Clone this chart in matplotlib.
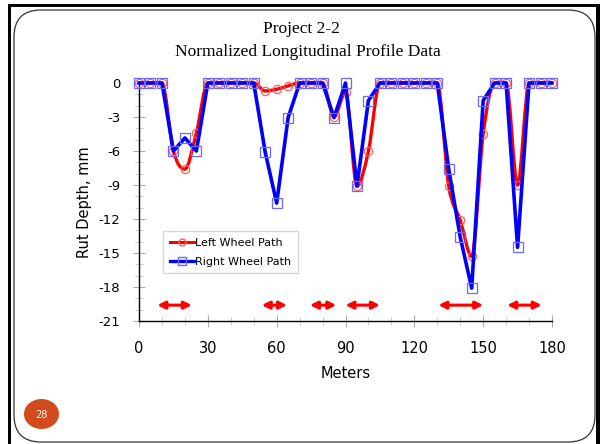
import numpy as np
import matplotlib
matplotlib.use("Agg")
import matplotlib.pyplot as plt
from matplotlib.path import Path
from matplotlib.patches import PathPatch, FancyBboxPatch, Ellipse, Rectangle
from matplotlib.lines import Line2D

plt.rcParams["axes.unicode_minus"] = False

# ---- data ----
meters = [0, 5, 10, 15, 20, 25, 30, 35, 40, 45, 50, 55, 60, 65, 70, 75, 80, 85, 90,
          95, 100, 105, 110, 115, 120, 125, 130, 135, 140, 145, 150, 155, 160, 165,
          170, 175, 180]
left_wheel = [0, 0, 0, -6.0, -7.6, -4.4, 0, 0, 0, 0, 0, -0.7, -0.55, -0.25, 0, 0, 0, -3.0, -0.8,
              -9.1, -6.0, 0, 0, 0, 0, 0, 0, -9.1, -12.1, -15.3, -4.5, 0, 0, -9.0,
              0, 0, 0]
right_wheel = [0, 0, 0, -6.0, -4.85, -6.0, 0, 0, 0, 0, 0, -6.1, -10.6, -3.05, 0, 0, 0, -3.05, 0,
               -9.1, -1.55, 0, 0, 0, 0, 0, 0, -7.6, -13.6, -18.1, -1.55, 0, 0, -14.5,
               0, 0, 0]
arrow_spans = [(8, 23), (53.5, 64.5), (74.5, 86), (90, 105), (130.5, 150), (160.5, 175.5)]
arrow_level = -19.6
x_ticks = [0, 30, 60, 90, 120, 150, 180]
y_ticks = [0, -3, -6, -9, -12, -15, -18, -21]

W, H = 600, 444
fig = plt.figure(figsize=(W / 100, H / 100), dpi=100)
fig.patch.set_facecolor("white")

# ---- slide frame ----
def px(x, y):
    return x / W, 1 - y / H

for r in [Rectangle((8 / W, 0), 3 / W, 1 - 5 / H),
          Rectangle((596 / W, 0), 4 / W, 1 - 4 / H),
          Rectangle((8 / W, 1 - 7 / H), 592 / W, 3 / H)]:
    r.set_transform(fig.transFigure)
    r.set_facecolor("black")
    r.set_edgecolor("none")
    r.set_zorder(-2)
    fig.patches.append(r)
frame = FancyBboxPatch((14 / W, 2 / H), (595 - 14) / W, (434 - 2) / H,
                       boxstyle="round,pad=0,rounding_size=0.045",
                       transform=fig.transFigure, facecolor="white",
                       edgecolor="#333333", linewidth=0.9,
                       mutation_aspect=W / H, zorder=-1)
fig.patches.append(frame)
fig.patches.append(Ellipse(px(41.5, 414), 35 / W, 30 / H, transform=fig.transFigure,
                           facecolor="#D24B1C", edgecolor="none", zorder=0))
fig.text(*px(41.5, 414.5), "28", color="white", fontsize=7, ha="center", va="center",
         family="DejaVu Sans")

# ---- titles ----
fig.text(*px(301, 29), "Project 2-2", fontsize=12.5, ha="center", va="center",
         family="Liberation Serif")
fig.text(*px(308, 52), "Normalized Longitudinal Profile Data", fontsize=12.5,
         ha="center", va="center", family="Liberation Serif")

# ---- axes ----
ax = fig.add_axes([139 / W, 1 - 321 / H, (552 - 139) / W, (321 - 83) / H])
ax.set_zorder(5)
ax.set_facecolor("none")
ax.set_xlim(0, 180)
ax.set_ylim(-21, 0)
for s in ["top", "right"]:
    ax.spines[s].set_visible(False)
for s in ["left", "bottom"]:
    ax.spines[s].set_color("black")
    ax.spines[s].set_linewidth(1.0)

ax.set_xticks(x_ticks)
ax.set_yticks(y_ticks)
ax.set_xticks(np.arange(0, 181, 10), minor=True)
ax.set_yticks(np.arange(-21, 1, 1), minor=True)
ax.tick_params(axis="both", which="major", direction="inout", length=9, width=0.8,
               color="#aaaaaa")
ax.tick_params(axis="both", which="minor", direction="inout", length=6, width=0.8,
               color="#cccccc")
ax.tick_params(axis="x", pad=10, labelsize=10.5)
ax.tick_params(axis="y", pad=9, labelsize=9.5)
ax.set_xlabel("Meters", fontsize=10.5, labelpad=7)
ax.set_ylabel("Rut Depth, mm", fontsize=10.5, labelpad=5)

# smoothed path for left wheel (Bezier through the points, flat at extrema)
xs = np.array(meters, dtype=float)
ys = np.array(left_wheel, dtype=float)
n = len(xs)
d = np.diff(ys) / np.diff(xs)
m = np.zeros(n)
for i in range(1, n - 1):
    if d[i - 1] * d[i] > 0:
        m[i] = (ys[i + 1] - ys[i - 1]) / (xs[i + 1] - xs[i - 1])
verts = [(xs[0], ys[0])]
codes = [Path.MOVETO]
for i in range(n - 1):
    h = xs[i + 1] - xs[i]
    verts += [(xs[i] + h / 3, ys[i] + m[i] * h / 3),
              (xs[i + 1] - h / 3, ys[i + 1] - m[i + 1] * h / 3),
              (xs[i + 1], ys[i + 1])]
    codes += [Path.CURVE4] * 3
ax.add_patch(PathPatch(Path(verts, codes), facecolor="none", edgecolor="#FF0000",
                       linewidth=2.4, zorder=3, clip_on=False))
ax.plot(meters, left_wheel, linestyle="none", marker="o", markersize=6,
        markerfacecolor="none", markeredgecolor="#FF6060", markeredgewidth=0.9,
        zorder=4, clip_on=False)

ax.plot(meters, right_wheel, color="#0000FF", linewidth=2.6, marker="s", markersize=7,
        markerfacecolor="none", markeredgecolor="#6A6AFF", markeredgewidth=0.9,
        zorder=5, clip_on=False)

for a, b in arrow_spans:
    ax.annotate("", xy=(b, arrow_level), xytext=(a, arrow_level),
                arrowprops=dict(arrowstyle="<|-|>", color="#FF0000", lw=2.2,
                                mutation_scale=11, shrinkA=0, shrinkB=0))

h_left = Line2D([], [], color="#FF0000", linewidth=2.2, marker="o", markersize=5,
                markerfacecolor="none", markeredgecolor="#FF6060")
h_right = Line2D([], [], color="#0000FF", linewidth=2.4, marker="s", markersize=6,
                 markerfacecolor="none", markeredgecolor="#6A6AFF")
leg = ax.legend([h_left, h_right], ["Left Wheel Path", "Right Wheel Path"],
                loc="upper left", bbox_to_anchor=((163 - 139) / 413, (321 - 231) / 238),
                fontsize=8, frameon=True, fancybox=False, edgecolor="#cccccc",
                handlelength=2.2, handletextpad=0.1, borderpad=0.6, labelspacing=0.8,
                borderaxespad=0)
leg.get_frame().set_linewidth(1.0)

fig.savefig("out.png", dpi=100)
